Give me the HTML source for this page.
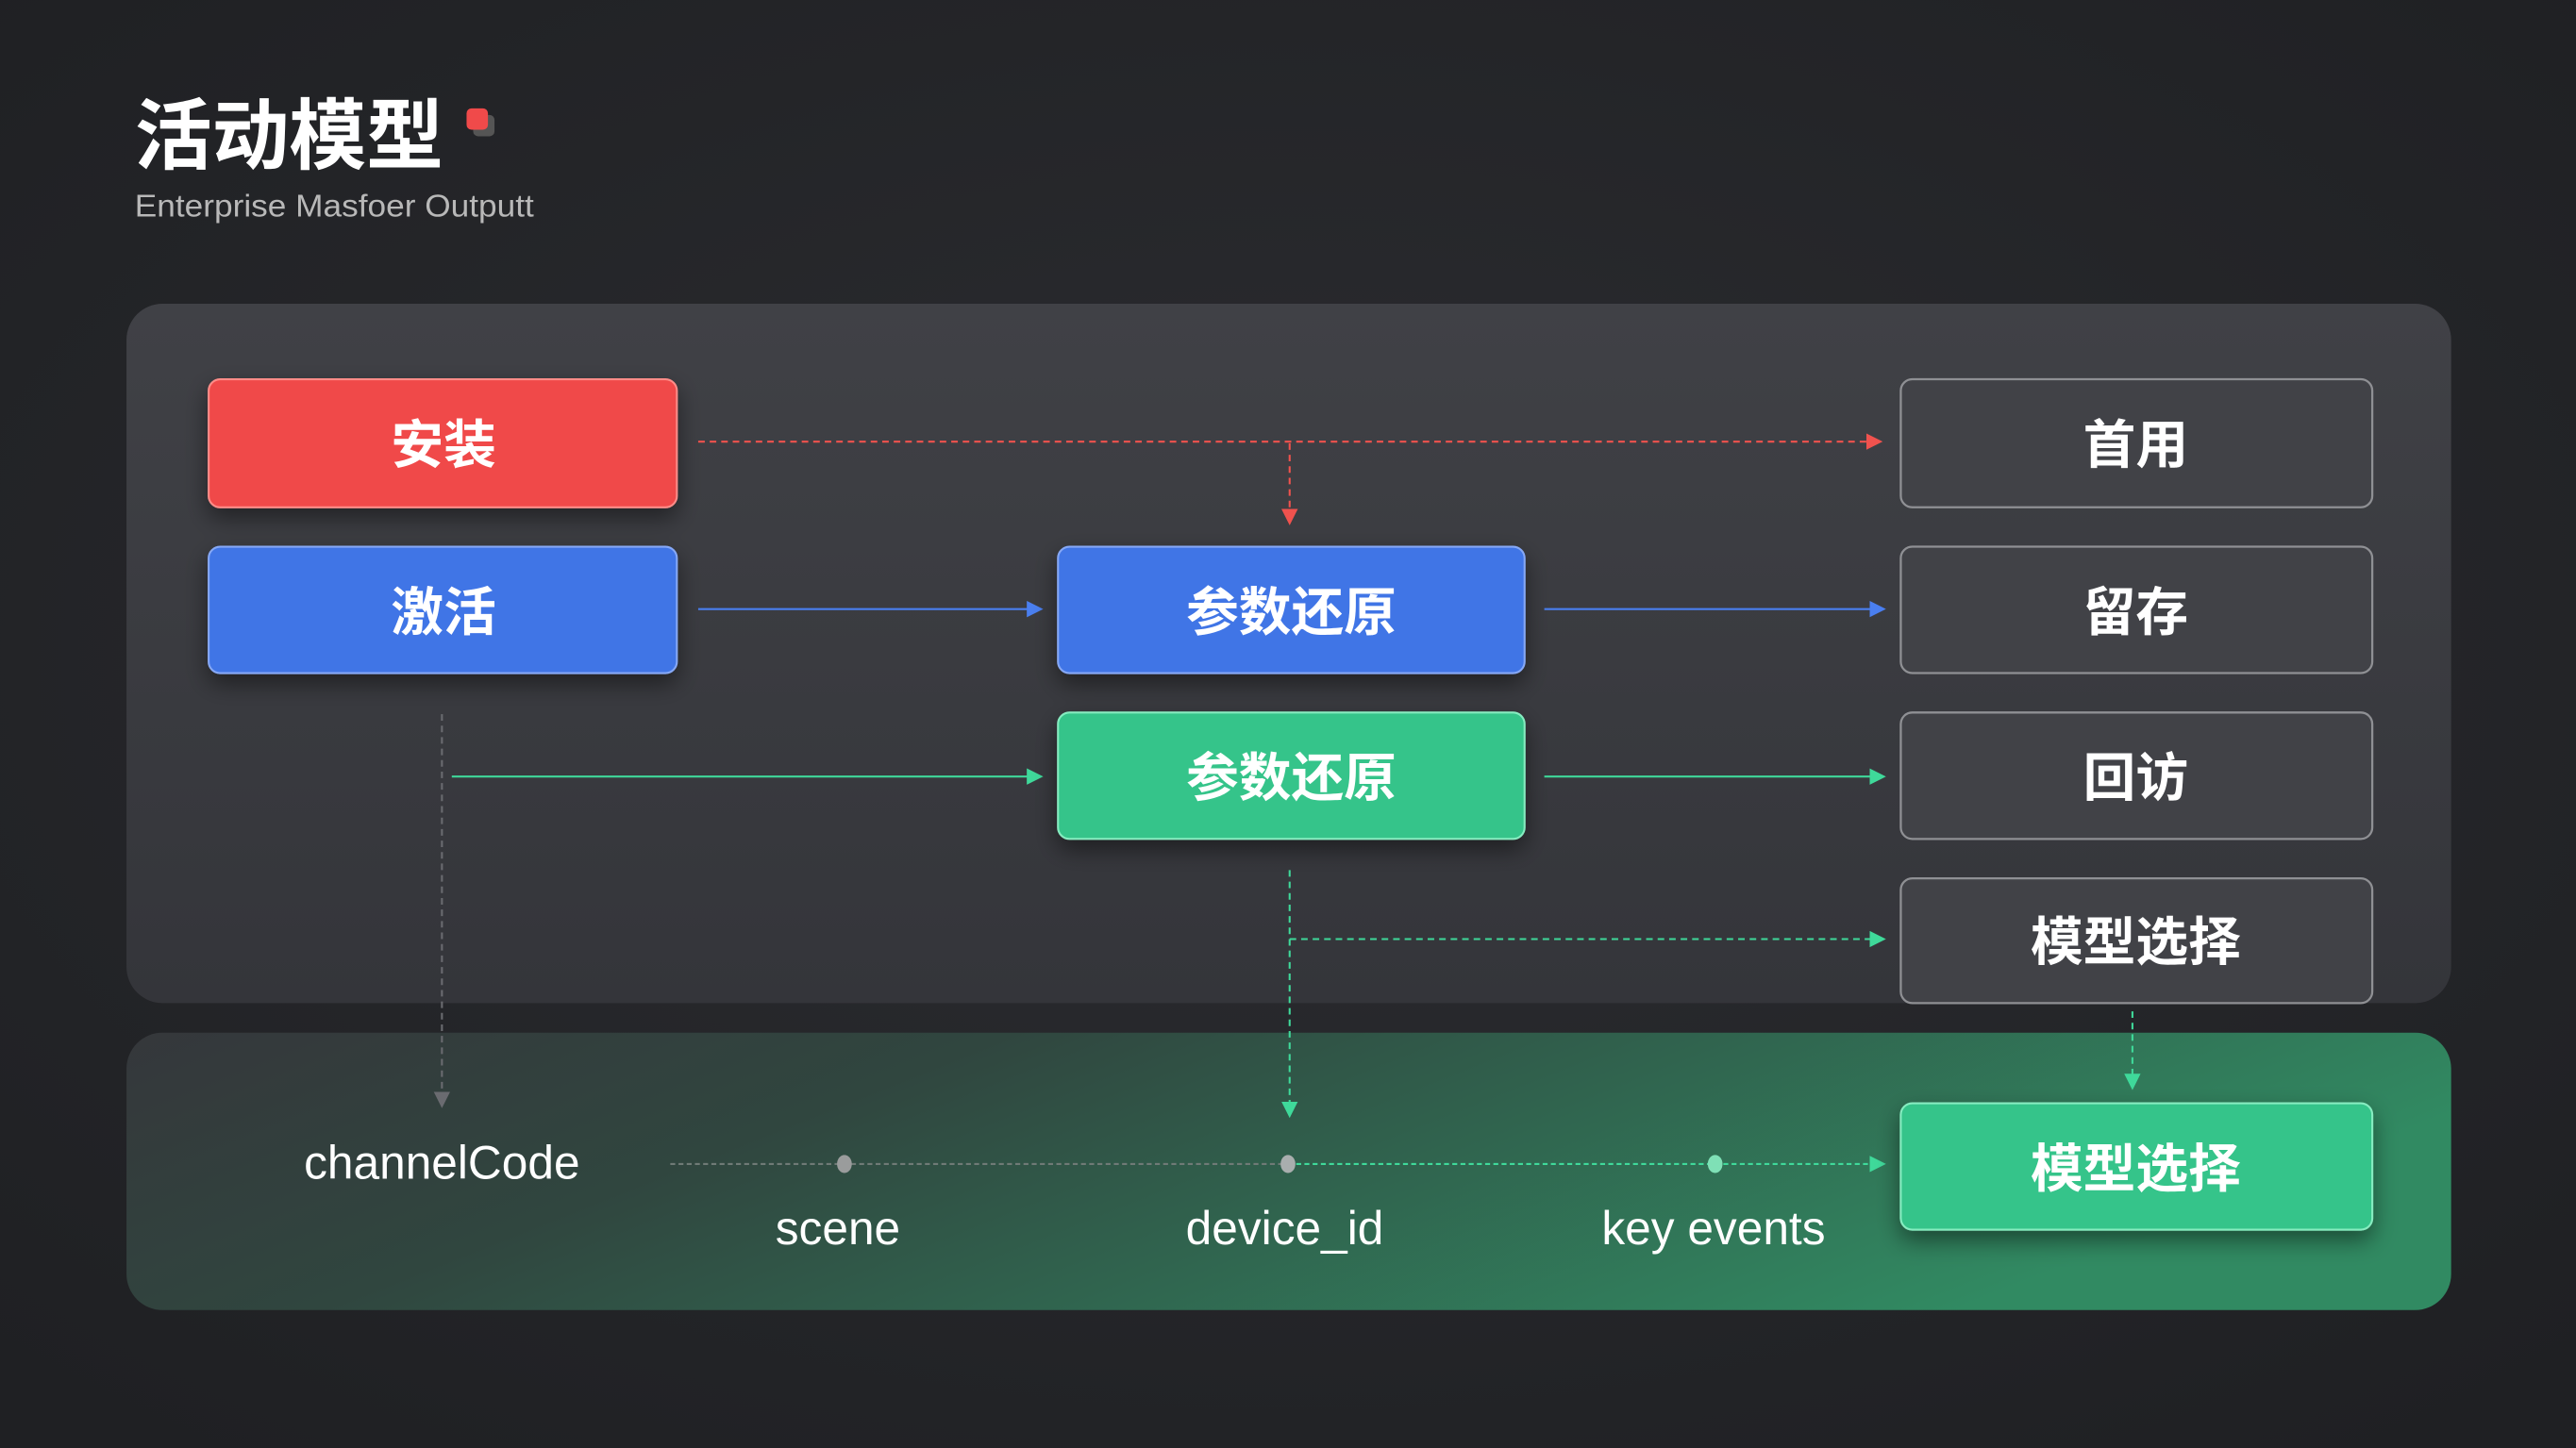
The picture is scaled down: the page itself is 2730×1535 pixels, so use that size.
<!DOCTYPE html>
<html><head><meta charset="utf-8"><style>
html,body{margin:0;padding:0;background:#222326;width:2730px;height:1535px;overflow:hidden}
svg{display:block}
</style></head><body>
<svg width="2730" height="1535" viewBox="0 0 1568 882" preserveAspectRatio="none" xmlns="http://www.w3.org/2000/svg" font-family="'Liberation Sans','Noto Sans CJK SC',sans-serif">
<defs>
<radialGradient id="bg" cx="0.5" cy="0.45" r="0.7">
<stop offset="0" stop-color="#2c2d31"/><stop offset="1" stop-color="#1f2023"/></radialGradient>
<linearGradient id="p1" x1="0" y1="0" x2="0" y2="1"><stop offset="0" stop-color="#404146"/><stop offset="1" stop-color="#34353a"/></linearGradient>
<linearGradient id="p2" x1="0" y1="0" x2="1" y2="0.3"><stop offset="0" stop-color="#35373b"/><stop offset="0.35" stop-color="#30463f"/><stop offset="1" stop-color="#318a62"/></linearGradient>
<filter id="sh" x="-20%" y="-30%" width="140%" height="170%"><feDropShadow dx="0" dy="6" stdDeviation="7" flood-opacity="0.45"/></filter>
<marker id="aR" markerWidth="10" markerHeight="10" refX="8" refY="5" orient="auto" markerUnits="userSpaceOnUse"><path d="M0,0L10,5L0,10z" fill="#f0524e"/></marker>
<marker id="aB" markerWidth="10" markerHeight="10" refX="8" refY="5" orient="auto" markerUnits="userSpaceOnUse"><path d="M0,0L10,5L0,10z" fill="#4a7ff0"/></marker>
<marker id="aG" markerWidth="10" markerHeight="10" refX="8" refY="5" orient="auto" markerUnits="userSpaceOnUse"><path d="M0,0L10,5L0,10z" fill="#3fd99a"/></marker>
<marker id="aY" markerWidth="10" markerHeight="10" refX="8" refY="5" orient="auto" markerUnits="userSpaceOnUse"><path d="M0,0L10,5L0,10z" fill="#6a6b70"/></marker>
</defs>
<rect width="1568" height="882" fill="url(#bg)"/>
<text x="82" y="99" font-size="47" font-weight="bold" fill="#fff">活动模型</text>
<rect x="288" y="70" width="13" height="13" rx="3" fill="#555"/>
<rect x="284" y="66" width="13" height="13" rx="3" fill="#f04a4a"/>
<text x="82" y="132" font-size="19" fill="#b8b8b8" textLength="243" lengthAdjust="spacingAndGlyphs">Enterprise Masfoer Outputt</text>

<rect x="77" y="185" width="1415" height="426" rx="22" fill="url(#p1)"/>
<rect x="77" y="629" width="1415" height="169" rx="22" fill="url(#p2)"/>

<g stroke-width="1.2" fill="none">
<line x1="425" y1="269" x2="1144" y2="269" stroke="#f0524e" stroke-dasharray="4 3" marker-end="url(#aR)"/>
<line x1="785" y1="270" x2="785" y2="318" stroke="#f0524e" stroke-dasharray="4 3" marker-end="url(#aR)"/>
<line x1="425" y1="371" x2="633" y2="371" stroke="#4a7ff0" marker-end="url(#aB)"/>
<line x1="940" y1="371" x2="1146" y2="371" stroke="#4a7ff0" marker-end="url(#aB)"/>
<line x1="275" y1="473" x2="633" y2="473" stroke="#3fd99a" marker-end="url(#aG)"/>
<line x1="940" y1="473" x2="1146" y2="473" stroke="#3fd99a" marker-end="url(#aG)"/>
<line x1="785" y1="530" x2="785" y2="679" stroke="#3fd99a" stroke-dasharray="4 3" marker-end="url(#aG)"/>
<line x1="785" y1="572" x2="1146" y2="572" stroke="#3fd99a" stroke-dasharray="4 3" marker-end="url(#aG)"/>
<line x1="269" y1="435" x2="269" y2="673" stroke="#6a6b70" stroke-dasharray="4 3" marker-end="url(#aY)"/>
<line x1="1298" y1="616" x2="1298" y2="662" stroke="#3fd99a" stroke-dasharray="4 3" marker-end="url(#aG)"/>
<line x1="408" y1="709" x2="784" y2="709" stroke="#6f7a76" stroke-dasharray="3 2"/>
<line x1="784" y1="709" x2="1146" y2="709" stroke="#3fd99a" stroke-dasharray="3 2" marker-end="url(#aG)"/>
</g>
<ellipse cx="514" cy="709" rx="4.5" ry="5.5" fill="#9a9c9c"/>
<ellipse cx="784" cy="709" rx="4.5" ry="5.5" fill="#a9aeae"/>
<ellipse cx="1044" cy="709" rx="4.5" ry="5.5" fill="#7fe0b6"/>

<g filter="url(#sh)">
<rect x="127" y="231" width="285" height="78" rx="7" fill="#f04848" stroke="#ff8c88" stroke-width="1.2"/>
<rect x="127" y="333" width="285" height="77" rx="7" fill="#3f74e6" stroke="#86a8f5" stroke-width="1.2"/>
<rect x="644" y="333" width="284" height="77" rx="7" fill="#3f74e6" stroke="#86a8f5" stroke-width="1.2"/>
<rect x="644" y="434" width="284" height="77" rx="7" fill="#34c48a" stroke="#86ecc0" stroke-width="1.2"/>
<rect x="1157" y="672" width="287" height="77" rx="7" fill="#34c48a" stroke="#86ecc0" stroke-width="1.2"/>
</g>
<g fill="#414247" stroke="#8f9094" stroke-width="1.3">
<rect x="1157" y="231" width="287" height="78" rx="7"/>
<rect x="1157" y="333" width="287" height="77" rx="7"/>
<rect x="1157" y="434" width="287" height="77" rx="7"/>
<rect x="1157" y="535" width="287" height="76" rx="7"/>
</g>
<g font-size="32" font-weight="bold" fill="#fff" text-anchor="middle">
<text x="270" y="282">安装</text>
<text x="270" y="384">激活</text>
<text x="786" y="384">参数还原</text>
<text x="786" y="485">参数还原</text>
<text x="1300" y="282">首用</text>
<text x="1300" y="384">留存</text>
<text x="1300" y="485">回访</text>
<text x="1300" y="585">模型选择</text>
<text x="1300" y="723">模型选择</text>
</g>
<g font-size="28.5" fill="#fff" text-anchor="middle">
<text x="269" y="718">channelCode</text>
<text x="510" y="758">scene</text>
<text x="782" y="758">device_id</text>
<text x="1043" y="758">key events</text>
</g>
</svg>
</body></html>
